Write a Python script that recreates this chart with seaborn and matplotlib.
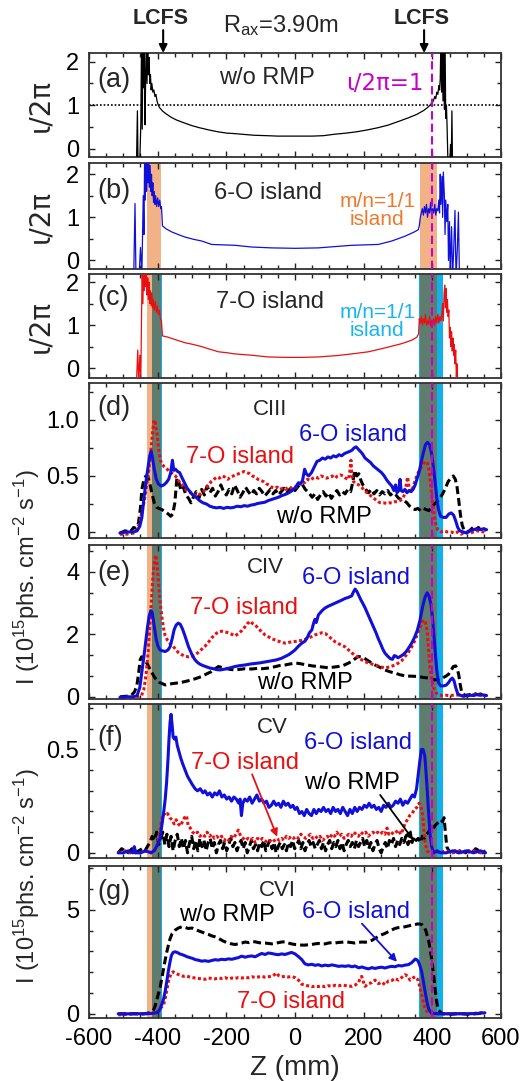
import matplotlib
matplotlib.use("Agg")
import matplotlib.pyplot as plt
import pandas as pd
import seaborn as sns
from matplotlib.ticker import MultipleLocator, FixedLocator, FixedFormatter

sns.set_style("ticks")
plt.rcParams["font.family"] = ["Liberation Sans", "DejaVu Sans"]
plt.rcParams["mathtext.default"] = "regular"
plt.rcParams["axes.unicode_minus"] = False

# ---------------------------------------------------------------- data
# rotational transform profiles iota/2pi vs Z (mm)
iota_wo_rmp = [
    (-462, -0.5), (-459, 0.87), (-457, -0.5), (-452, -0.3), (-449, 0.6), (-447, 2.5),
    (-445, 0.45), (-443, 2.5), (-441, 1.4), (-439, 2.5), (-437, 0.55), (-435, 1.6),
    (-433, 2.5), (-431, 1.5), (-429, 2.5), (-427, 1.7), (-425, 2.1), (-423, 1.5),
    (-421, 1.7), (-419, 1.35), (-417, 1.5), (-414, 1.3), (-411, 1.35), (-408, 1.2),
    (-405, 1.25), (-402, 1.1), (-399, 1.02), (-395, 0.95), (-385, 0.86), (-375, 0.8),
    (-360, 0.72), (-345, 0.66), (-325, 0.6), (-300, 0.53), (-277, 0.48), (-250, 0.43),
    (-225, 0.39), (-200, 0.36), (-180, 0.35), (-150, 0.33), (-120, 0.31), (-82, 0.30),
    (-50, 0.29), (0, 0.29), (50, 0.29), (83, 0.30), (112, 0.33), (150, 0.36), (180, 0.39),
    (209, 0.43), (240, 0.48), (270, 0.54), (306, 0.64), (330, 0.71), (355, 0.79),
    (375, 0.88), (385, 0.94), (393, 1.0), (398, 1.05), (403, 1.1), (407, 1.2), (410, 1.15),
    (413, 1.3), (416, 1.25), (419, 1.45), (421, 1.35), (423, 1.6), (425, 2.5), (427, 1.3),
    (429, 2.5), (431, 1.1), (433, 2.5), (435, 0.9), (437, 2.5), (439, 0.7), (441, 1.0),
    (443, 0.5), (446, -0.5), (450, -0.5), (453, 0.1), (455, -0.5), (457, 0.87), (459, -0.5),
]
iota_6o = [
    (-470, -0.5), (-466, 1.32), (-463, -0.5), (-455, -0.5), (-450, 0.3), (-446, -0.3),
    (-442, 1.5), (-440, 0.6), (-438, 2.4), (-436, 1.4), (-434, 2.5), (-432, 1.6),
    (-430, 2.5), (-428, 1.8), (-426, 2.5), (-424, 1.7), (-422, 2.2), (-420, 1.6),
    (-418, 2.0), (-416, 1.5), (-414, 1.8), (-412, 1.35), (-410, 1.6), (-408, 1.3),
    (-406, 1.5), (-403, 1.25), (-400, 1.45), (-397, 1.25), (-394, 1.4), (-391, 1.2),
    (-389, 1.25), (-386, 0.8), (-375, 0.73), (-359, 0.66), (-340, 0.6), (-320, 0.54),
    (-296, 0.49), (-272, 0.45), (-243, 0.37), (-210, 0.36), (-175, 0.35), (-126, 0.31),
    (-68, 0.29), (0, 0.28), (68, 0.29), (100, 0.31), (165, 0.35), (243, 0.37), (282, 0.45),
    (320, 0.56), (345, 0.65), (359, 0.71), (362, 0.8), (365, 1.0), (368, 1.1), (371, 1.2),
    (374, 1.05), (377, 1.25), (380, 1.1), (383, 1.3), (386, 1.0), (389, 1.2), (392, 1.1),
    (395, 1.35), (398, 1.05), (401, 1.2), (404, 1.1), (407, 1.3), (410, 1.05), (413, 1.2),
    (416, 1.15), (419, 1.4), (421, 1.1), (423, 2.0), (425, 1.3), (428, 1.95), (430, 1.0),
    (432, 2.05), (435, 1.5), (437, 0.6), (439, 1.4), (442, 0.9), (445, 1.3), (447, 0.0),
    (450, 0.9), (452, -0.4), (456, 0.78), (459, -0.4), (462, 0.2), (466, 1.16), (469, -0.4),
    (473, 0.3), (476, 1.12), (479, -0.4),
]
iota_7o = [
    (-462, -0.4), (-458, 0.42), (-455, -0.4), (-452, 0.3), (-449, -0.2), (-447, 1.2),
    (-445, 2.4), (-443, 1.5), (-441, 2.5), (-439, 1.8), (-437, 2.4), (-435, 1.9),
    (-433, 2.2), (-431, 1.7), (-429, 2.1), (-427, 1.6), (-425, 2.0), (-423, 1.5),
    (-421, 1.8), (-419, 1.45), (-417, 1.75), (-415, 1.4), (-413, 1.6), (-410, 1.35),
    (-407, 1.55), (-404, 1.3), (-401, 1.45), (-398, 1.25), (-395, 1.35), (-392, 1.15),
    (-389, 1.1), (-386, 0.75), (-370, 0.72), (-359, 0.69), (-340, 0.64), (-320, 0.59),
    (-296, 0.55), (-272, 0.5), (-248, 0.44), (-223, 0.38), (-200, 0.36), (-175, 0.33),
    (-126, 0.30), (-78, 0.26), (-30, 0.25), (20, 0.25), (68, 0.26), (120, 0.29), (165, 0.33),
    (214, 0.38), (262, 0.47), (311, 0.57), (340, 0.65), (355, 0.72), (360, 0.8), (362, 1.15),
    (365, 1.05), (368, 1.2), (371, 1.0), (374, 1.15), (377, 1.05), (380, 1.25), (383, 1.0),
    (386, 1.1), (389, 1.02), (392, 1.2), (395, 0.98), (398, 1.1), (401, 1.0), (404, 1.15),
    (407, 1.0), (410, 1.2), (413, 1.05), (416, 1.25), (419, 1.05), (422, 1.2), (425, 1.1),
    (428, 1.3), (430, 1.5), (432, 1.1), (434, 1.7), (436, 1.93), (438, 1.4), (440, 1.85),
    (442, 1.3), (444, 1.6), (446, 1.2), (448, 1.35), (450, 0.7), (452, 0.95), (454, 0.5),
    (456, 0.85), (458, 0.4), (460, 0.7), (462, 0.3), (464, 0.55), (466, 0.1), (468, 0.42),
    (470, -0.2), (472, 0.1), (474, -0.3),
]

# CIII intensity (1e15 phs cm^-2 s^-1)
ciii_wo = [
    (-510, -0.01), (-495, 0.01), (-480, 0.0), (-470, 0.04), (-462, 0.03), (-456, 0.08),
    (-450, 0.22), (-446, 0.38), (-440, 0.47), (-434, 0.50), (-428, 0.49), (-422, 0.42),
    (-417, 0.35), (-410, 0.26), (-403, 0.22), (-396, 0.21), (-388, 0.20), (-378, 0.18),
    (-369, 0.16), (-362, 0.14), (-356, 0.16), (-350, 0.26), (-344, 0.48), (-338, 0.44),
    (-332, 0.37), (-325, 0.40), (-318, 0.33), (-310, 0.30), (-303, 0.26), (-296, 0.31),
    (-288, 0.36), (-280, 0.30), (-272, 0.38), (-264, 0.33), (-256, 0.41), (-248, 0.35),
    (-240, 0.39), (-232, 0.32), (-224, 0.36), (-216, 0.42), (-208, 0.36), (-200, 0.33),
    (-192, 0.38), (-184, 0.34), (-176, 0.42), (-168, 0.37), (-160, 0.31), (-152, 0.35),
    (-144, 0.40), (-136, 0.36), (-128, 0.33), (-120, 0.37), (-112, 0.34), (-104, 0.39),
    (-96, 0.36), (-88, 0.32), (-80, 0.35), (-72, 0.38), (-64, 0.34), (-56, 0.37),
    (-48, 0.33), (-40, 0.36), (-32, 0.39), (-24, 0.35), (-16, 0.38), (-8, 0.40), (0, 0.37),
    (10, 0.41), (20, 0.43), (30, 0.38), (40, 0.35), (50, 0.31), (58, 0.34), (66, 0.29),
    (74, 0.33), (82, 0.36), (90, 0.32), (98, 0.35), (106, 0.30), (114, 0.34), (122, 0.37),
    (130, 0.33), (138, 0.36), (146, 0.34), (154, 0.38), (162, 0.36), (168, 0.44),
    (174, 0.55), (180, 0.50), (186, 0.52), (192, 0.46), (198, 0.42), (206, 0.38),
    (214, 0.35), (222, 0.38), (230, 0.34), (238, 0.37), (246, 0.33), (254, 0.36),
    (262, 0.34), (270, 0.37), (278, 0.33), (286, 0.35), (294, 0.33), (302, 0.30),
    (310, 0.29), (318, 0.28), (326, 0.26), (334, 0.23), (342, 0.21), (350, 0.20),
    (358, 0.21), (366, 0.19), (374, 0.21), (382, 0.20), (390, 0.19), (398, 0.22),
    (406, 0.25), (414, 0.27), (422, 0.30), (430, 0.34), (438, 0.39), (446, 0.45),
    (454, 0.48), (461, 0.50), (467, 0.47), (472, 0.40), (477, 0.28), (482, 0.15),
    (487, 0.06), (492, 0.02), (500, 0.0), (508, 0.01), (515, 0.03), (522, 0.05),
    (528, 0.02), (534, 0.04), (540, 0.02), (548, 0.01), (555, 0.02),
]
ciii_6o = [
    (-510, -0.01), (-490, 0.0), (-470, 0.0), (-460, 0.01), (-452, 0.05), (-446, 0.13),
    (-440, 0.30), (-434, 0.45), (-428, 0.58), (-423, 0.68), (-419, 0.72), (-415, 0.66),
    (-410, 0.56), (-404, 0.47), (-398, 0.43), (-390, 0.41), (-382, 0.42), (-375, 0.44),
    (-368, 0.47), (-362, 0.53), (-357, 0.64), (-353, 0.55), (-348, 0.56), (-342, 0.54),
    (-336, 0.53), (-330, 0.49), (-322, 0.44), (-314, 0.39), (-306, 0.36), (-298, 0.33),
    (-288, 0.31), (-278, 0.28), (-268, 0.26), (-258, 0.25), (-248, 0.23), (-238, 0.22),
    (-228, 0.215), (-218, 0.22), (-208, 0.21), (-198, 0.22), (-188, 0.215), (-178, 0.22),
    (-168, 0.23), (-158, 0.225), (-148, 0.235), (-138, 0.23), (-128, 0.24), (-118, 0.245),
    (-108, 0.255), (-98, 0.26), (-88, 0.265), (-78, 0.28), (-68, 0.29), (-58, 0.30),
    (-48, 0.31), (-38, 0.325), (-28, 0.335), (-18, 0.35), (-8, 0.37), (2, 0.40), (10, 0.44),
    (16, 0.43), (22, 0.46), (28, 0.56), (33, 0.52), (40, 0.50), (48, 0.53), (56, 0.58),
    (64, 0.63), (72, 0.64), (80, 0.66), (88, 0.65), (96, 0.67), (104, 0.66), (112, 0.68),
    (120, 0.67), (128, 0.69), (136, 0.68), (144, 0.70), (152, 0.71), (160, 0.72),
    (166, 0.73), (172, 0.75), (178, 0.76), (184, 0.74), (190, 0.72), (196, 0.70),
    (204, 0.66), (212, 0.64), (220, 0.62), (228, 0.59), (236, 0.57), (244, 0.55),
    (252, 0.53), (260, 0.50), (268, 0.46), (276, 0.43), (282, 0.41), (288, 0.37),
    (293, 0.42), (297, 0.35), (302, 0.37), (306, 0.47), (309, 0.37), (314, 0.36),
    (320, 0.38), (326, 0.35), (332, 0.37), (338, 0.36), (344, 0.38), (350, 0.42),
    (356, 0.48), (362, 0.54), (368, 0.63), (374, 0.71), (380, 0.78), (386, 0.80),
    (392, 0.78), (398, 0.70), (403, 0.58), (408, 0.45), (413, 0.30), (418, 0.20),
    (424, 0.14), (432, 0.13), (440, 0.13), (448, 0.16), (455, 0.17), (462, 0.15),
    (468, 0.10), (474, 0.04), (480, 0.01), (490, 0.0), (500, -0.01), (510, 0.01),
    (520, 0.02), (530, 0.03), (540, 0.02), (550, 0.03), (558, 0.02),
]
ciii_7o = [
    (-510, -0.02), (-490, -0.02), (-470, -0.01), (-460, 0.02), (-452, 0.08), (-446, 0.18),
    (-440, 0.26), (-433, 0.40), (-426, 0.55), (-420, 0.72), (-415, 0.88), (-411, 1.0),
    (-407, 0.98), (-402, 0.88), (-397, 0.74), (-392, 0.64), (-386, 0.60), (-380, 0.58),
    (-372, 0.56), (-364, 0.53), (-356, 0.52), (-348, 0.50), (-340, 0.46), (-332, 0.43),
    (-324, 0.40), (-316, 0.37), (-308, 0.36), (-300, 0.34), (-292, 0.33), (-284, 0.32),
    (-276, 0.34), (-268, 0.36), (-260, 0.38), (-252, 0.42), (-244, 0.45), (-236, 0.47),
    (-228, 0.49), (-220, 0.48), (-212, 0.50), (-204, 0.49), (-196, 0.47), (-188, 0.49),
    (-180, 0.50), (-172, 0.51), (-164, 0.52), (-156, 0.53), (-148, 0.54), (-140, 0.53),
    (-132, 0.52), (-124, 0.50), (-116, 0.49), (-108, 0.47), (-100, 0.46), (-92, 0.45),
    (-84, 0.43), (-76, 0.42), (-68, 0.40), (-60, 0.39), (-52, 0.40), (-44, 0.38),
    (-36, 0.39), (-28, 0.38), (-20, 0.40), (-12, 0.39), (-4, 0.41), (4, 0.40), (12, 0.42),
    (20, 0.45), (28, 0.44), (36, 0.47), (44, 0.46), (52, 0.48), (60, 0.49), (68, 0.48),
    (76, 0.50), (84, 0.49), (92, 0.48), (100, 0.49), (108, 0.50), (116, 0.48), (124, 0.50),
    (132, 0.51), (140, 0.50), (148, 0.48), (156, 0.47), (160, 0.55), (163, 0.64),
    (166, 0.50), (170, 0.45), (178, 0.43), (186, 0.42), (194, 0.40), (202, 0.37),
    (210, 0.35), (218, 0.33), (226, 0.31), (234, 0.29), (242, 0.27), (250, 0.26),
    (258, 0.26), (266, 0.255), (274, 0.26), (282, 0.26), (290, 0.27), (298, 0.27),
    (306, 0.28), (314, 0.30), (320, 0.34), (324, 0.42), (328, 0.49), (332, 0.40),
    (338, 0.36), (344, 0.40), (350, 0.46), (356, 0.51), (362, 0.55), (368, 0.58),
    (374, 0.61), (380, 0.63), (385, 0.62), (390, 0.56), (395, 0.42), (400, 0.28),
    (405, 0.16), (410, 0.07), (416, 0.02), (424, 0.0), (434, 0.01), (444, 0.0), (454, 0.0),
    (464, -0.01), (474, 0.0), (484, -0.02), (494, 0.0), (510, -0.01), (530, 0.01),
    (550, 0.0), (558, -0.01),
]

# CIV intensity
civ_wo = [
    (-510, 0.0), (-490, 0.02), (-476, 0.06), (-468, 0.15), (-461, 0.33), (-455, 0.80),
    (-451, 1.18), (-447, 1.28), (-442, 1.27), (-436, 1.15), (-430, 1.05), (-424, 0.92),
    (-417, 0.78), (-410, 0.64), (-403, 0.54), (-395, 0.46), (-386, 0.42), (-378, 0.38),
    (-368, 0.40), (-359, 0.42), (-345, 0.44), (-332, 0.46), (-320, 0.49), (-305, 0.53),
    (-290, 0.58), (-272, 0.65), (-258, 0.73), (-243, 0.81), (-232, 0.90), (-223, 0.97),
    (-214, 0.94), (-204, 0.92), (-190, 0.88), (-175, 0.86), (-160, 0.88), (-145, 0.90),
    (-126, 0.89), (-110, 0.91), (-95, 0.90), (-78, 0.92), (-60, 0.96), (-45, 1.0),
    (-29, 1.02), (-15, 1.05), (0, 1.08), (10, 1.07), (20, 1.05), (35, 1.02), (50, 0.99),
    (68, 0.97), (82, 0.95), (97, 0.93), (112, 0.95), (126, 0.97), (140, 1.0), (152, 1.06),
    (165, 1.13), (175, 1.22), (185, 1.29), (195, 1.27), (204, 1.22), (218, 1.12),
    (233, 1.02), (248, 0.94), (262, 0.86), (277, 0.80), (291, 0.76), (305, 0.71),
    (320, 0.67), (340, 0.66), (359, 0.65), (374, 0.62), (389, 0.60), (400, 0.56),
    (408, 0.54), (418, 0.56), (428, 0.60), (438, 0.65), (447, 0.72), (455, 0.85),
    (461, 0.97), (468, 0.99), (473, 0.88), (477, 0.70), (481, 0.40), (486, 0.12),
    (495, 0.05), (505, 0.06), (515, 0.09), (524, 0.1), (532, 0.07), (540, 0.09),
    (550, 0.06), (558, 0.05),
]
civ_6o = [
    (-510, -0.02), (-490, 0.0), (-470, 0.0), (-460, 0.04), (-452, 0.30), (-446, 0.80),
    (-440, 1.30), (-435, 1.75), (-430, 2.20), (-425, 2.57), (-420, 2.76), (-416, 2.70),
    (-412, 2.40), (-408, 2.10), (-404, 1.82), (-399, 1.62), (-393, 1.50), (-386, 1.47),
    (-378, 1.45), (-370, 1.50), (-364, 1.60), (-358, 1.85), (-352, 2.15), (-346, 2.30),
    (-340, 2.36), (-334, 2.32), (-328, 2.18), (-322, 2.0), (-316, 1.80), (-310, 1.60),
    (-304, 1.45), (-298, 1.30), (-291, 1.18), (-284, 1.10), (-276, 1.04), (-268, 1.00),
    (-258, 0.96), (-248, 0.92), (-238, 0.90), (-228, 0.87), (-218, 0.86), (-208, 0.88),
    (-198, 0.90), (-188, 0.93), (-175, 0.97), (-160, 1.00), (-145, 1.02), (-130, 1.05),
    (-115, 1.07), (-100, 1.09), (-85, 1.12), (-70, 1.15), (-55, 1.18), (-40, 1.23),
    (-29, 1.29), (-18, 1.35), (-8, 1.43), (0, 1.50), (10, 1.62), (20, 1.72), (29, 1.78),
    (36, 1.90), (42, 2.05), (49, 2.14), (54, 2.35), (58, 2.48), (62, 2.38), (68, 2.62),
    (78, 2.75), (87, 2.84), (97, 2.90), (107, 2.95), (117, 3.00), (127, 3.05), (137, 3.10),
    (146, 3.15), (155, 3.18), (165, 3.23), (170, 3.35), (175, 3.45), (180, 3.38),
    (186, 3.24), (192, 3.10), (198, 2.98), (204, 2.85), (212, 2.65), (220, 2.45),
    (228, 2.25), (236, 2.05), (243, 1.85), (250, 1.68), (256, 1.52), (262, 1.40),
    (270, 1.30), (278, 1.22), (284, 1.20), (289, 1.32), (294, 1.30), (300, 1.25),
    (308, 1.30), (316, 1.36), (324, 1.45), (332, 1.58), (340, 1.72), (348, 1.90),
    (356, 2.12), (364, 2.45), (372, 2.90), (379, 3.20), (385, 3.33), (391, 3.20),
    (397, 2.90), (403, 2.20), (408, 1.50), (413, 0.85), (418, 0.45), (424, 0.35),
    (432, 0.35), (440, 0.37), (447, 0.45), (453, 0.55), (458, 0.60), (463, 0.52),
    (468, 0.30), (474, 0.10), (481, 0.05), (490, 0.02), (500, 0.03), (510, 0.05),
    (520, 0.04), (530, 0.07), (540, 0.05), (550, 0.06), (558, 0.04),
]
civ_7o = [
    (-510, -0.02), (-480, -0.01), (-460, 0.0), (-447, 0.04), (-440, 0.25), (-434, 0.70),
    (-428, 1.40), (-423, 2.20), (-418, 3.10), (-413, 3.96), (-409, 4.40), (-405, 4.54),
    (-401, 4.20), (-397, 3.60), (-393, 3.05), (-388, 2.57), (-383, 2.20), (-378, 1.95),
    (-372, 1.82), (-365, 1.72), (-358, 1.66), (-350, 1.55), (-340, 1.42), (-330, 1.35),
    (-320, 1.30), (-310, 1.28), (-300, 1.30), (-291, 1.34), (-282, 1.42), (-272, 1.52),
    (-262, 1.62), (-252, 1.75), (-243, 1.88), (-233, 2.00), (-223, 2.08), (-213, 2.10),
    (-204, 2.08), (-194, 2.05), (-184, 2.00), (-175, 1.95), (-165, 2.02), (-155, 2.12),
    (-145, 2.25), (-138, 2.35), (-131, 2.42), (-124, 2.35), (-116, 2.30), (-106, 2.18),
    (-97, 2.08), (-87, 1.98), (-77, 1.92), (-68, 1.86), (-58, 1.82), (-48, 1.78),
    (-38, 1.74), (-29, 1.72), (-19, 1.74), (-10, 1.76), (0, 1.77), (10, 1.79), (20, 1.81),
    (29, 1.84), (39, 1.88), (49, 1.93), (58, 1.98), (68, 2.02), (78, 2.05), (88, 2.03),
    (97, 1.95), (107, 1.85), (117, 1.76), (127, 1.70), (136, 1.65), (146, 1.60),
    (156, 1.50), (166, 1.40), (175, 1.33), (185, 1.25), (195, 1.18), (204, 1.13),
    (214, 1.08), (224, 1.05), (233, 1.02), (243, 0.98), (253, 0.95), (262, 0.92),
    (272, 0.95), (282, 0.98), (291, 1.02), (301, 1.08), (311, 1.16), (320, 1.28),
    (330, 1.42), (340, 1.60), (350, 1.82), (359, 2.08), (367, 2.30), (374, 2.46),
    (380, 2.38), (385, 2.10), (389, 1.50), (393, 0.95), (398, 0.55), (403, 0.30),
    (410, 0.14), (418, 0.06), (430, 0.04), (440, 0.05), (450, 0.04), (460, 0.05),
    (470, 0.06), (480, 0.05), (495, 0.02), (510, 0.05), (525, 0.08), (540, 0.06),
    (558, 0.03),
]

# CV intensity
cv_wo = [
    (-515, 0.0), (-505, 0.02), (-495, 0.01), (-485, 0.0), (-475, 0.02), (-465, 0.0),
    (-455, 0.01), (-445, 0.02), (-437, 0.01), (-430, 0.03), (-423, 0.05), (-416, 0.08),
    (-409, 0.06), (-403, 0.10), (-397, 0.04), (-391, 0.07), (-385, 0.10), (-379, 0.04),
    (-373, 0.09), (-367, 0.03), (-361, 0.08), (-355, 0.01), (-349, 0.06), (-343, 0.09),
    (-337, 0.03), (-331, 0.07), (-325, 0.02), (-319, 0.06), (-313, 0.00), (-307, 0.05),
    (-301, 0.08), (-295, 0.02), (-289, 0.06), (-283, 0.01), (-277, 0.07), (-271, 0.03),
    (-265, 0.06), (-259, 0.01), (-253, 0.05), (-247, 0.07), (-241, 0.02), (-235, 0.05),
    (-229, 0.00), (-223, 0.04), (-217, 0.06), (-211, 0.02), (-205, 0.05), (-199, 0.01),
    (-193, 0.04), (-187, 0.07), (-181, 0.03), (-175, 0.05), (-169, 0.01), (-163, 0.04),
    (-157, 0.06), (-151, 0.02), (-145, 0.05), (-139, 0.00), (-133, 0.03), (-127, 0.06),
    (-121, 0.02), (-115, 0.04), (-109, 0.01), (-103, 0.05), (-97, 0.03), (-91, 0.06),
    (-85, 0.01), (-79, 0.04), (-73, 0.06), (-67, 0.02), (-61, 0.05), (-55, 0.00),
    (-49, 0.03), (-43, 0.05), (-37, 0.02), (-31, 0.04), (-25, 0.01), (-19, 0.05),
    (-13, 0.03), (-7, 0.06), (-1, 0.02), (5, 0.04), (11, 0.06), (17, 0.02), (23, 0.05),
    (29, 0.01), (35, 0.04), (41, 0.06), (47, 0.03), (53, 0.05), (59, 0.02), (65, 0.04),
    (71, 0.06), (77, 0.02), (83, 0.05), (89, 0.01), (95, 0.04), (101, 0.06), (107, 0.02),
    (113, 0.05), (119, 0.03), (125, 0.06), (131, 0.02), (137, 0.05), (143, 0.01),
    (149, 0.04), (155, 0.06), (161, 0.03), (167, 0.05), (173, 0.02), (179, 0.06),
    (185, 0.03), (191, 0.05), (197, 0.07), (203, 0.03), (209, 0.06), (215, 0.02),
    (221, 0.05), (227, 0.01), (233, 0.04), (239, 0.06), (245, 0.02), (251, 0.00),
    (257, 0.03), (263, 0.05), (269, 0.02), (275, 0.06), (281, 0.04), (287, 0.07),
    (293, 0.03), (299, 0.06), (305, 0.04), (311, 0.07), (317, 0.05), (323, 0.08),
    (329, 0.04), (335, 0.07), (341, 0.05), (347, 0.08), (353, 0.06), (359, 0.07),
    (365, 0.05), (371, 0.08), (377, 0.07), (383, 0.09), (389, 0.10), (395, 0.12),
    (401, 0.11), (407, 0.13), (413, 0.14), (419, 0.15), (425, 0.16), (430, 0.15),
    (434, 0.17), (438, 0.10), (442, 0.03), (448, 0.01), (456, 0.0), (466, 0.01),
    (476, 0.0), (486, 0.02), (496, 0.0), (506, 0.01), (516, 0.0), (526, 0.02),
    (536, 0.01), (546, 0.0), (555, 0.01),
]
cv_6o = [
    (-515, 0.0), (-500, 0.0), (-485, 0.01), (-472, 0.0), (-468, 0.03), (-464, 0.0),
    (-450, 0.0), (-435, 0.01), (-420, 0.0), (-410, 0.01), (-400, 0.04), (-393, 0.07),
    (-388, 0.13), (-383, 0.19), (-378, 0.26), (-374, 0.34), (-370, 0.45), (-367, 0.55),
    (-364, 0.63), (-361, 0.67), (-358, 0.62), (-355, 0.56), (-351, 0.55), (-347, 0.56),
    (-343, 0.52), (-338, 0.49), (-333, 0.46), (-327, 0.43), (-320, 0.40), (-313, 0.37),
    (-306, 0.35), (-299, 0.33), (-291, 0.31), (-284, 0.30), (-276, 0.31), (-268, 0.29),
    (-262, 0.30), (-255, 0.28), (-248, 0.29), (-241, 0.27), (-234, 0.29), (-227, 0.28),
    (-220, 0.30), (-213, 0.27), (-206, 0.28), (-199, 0.26), (-192, 0.27), (-185, 0.25),
    (-178, 0.27), (-171, 0.26), (-164, 0.24), (-160, 0.26), (-156, 0.18), (-152, 0.24),
    (-146, 0.26), (-139, 0.25), (-132, 0.27), (-125, 0.24), (-118, 0.26), (-111, 0.28),
    (-104, 0.25), (-97, 0.26), (-90, 0.24), (-83, 0.25), (-76, 0.22), (-69, 0.23),
    (-62, 0.25), (-55, 0.23), (-48, 0.24), (-41, 0.22), (-34, 0.25), (-27, 0.23),
    (-20, 0.24), (-13, 0.22), (-6, 0.23), (0, 0.21), (6, 0.22), (13, 0.19), (20, 0.20),
    (27, 0.18), (34, 0.21), (41, 0.19), (48, 0.18), (55, 0.21), (62, 0.19), (69, 0.21),
    (76, 0.20), (83, 0.22), (90, 0.20), (97, 0.21), (104, 0.19), (111, 0.22), (118, 0.20),
    (125, 0.21), (132, 0.19), (139, 0.22), (146, 0.20), (153, 0.18), (160, 0.21),
    (167, 0.19), (174, 0.22), (181, 0.20), (188, 0.22), (195, 0.21), (202, 0.23),
    (209, 0.22), (216, 0.24), (223, 0.22), (230, 0.23), (237, 0.21), (244, 0.22),
    (251, 0.20), (258, 0.23), (265, 0.22), (272, 0.24), (279, 0.22), (286, 0.23),
    (293, 0.25), (300, 0.24), (307, 0.26), (314, 0.23), (321, 0.25), (328, 0.24),
    (335, 0.26), (342, 0.28), (348, 0.27), (354, 0.31), (359, 0.38), (364, 0.45),
    (368, 0.50), (373, 0.50), (378, 0.47), (382, 0.38), (386, 0.28), (390, 0.17),
    (394, 0.08), (398, 0.03), (404, 0.0), (414, 0.01), (424, 0.0), (440, 0.0), (460, 0.01),
    (480, 0.0), (500, 0.01), (520, 0.0), (540, 0.01), (555, 0.0),
]
cv_7o = [
    (-515, 0.0), (-495, 0.01), (-480, 0.0), (-466, 0.01), (-450, 0.0), (-430, 0.01),
    (-417, 0.0), (-410, 0.01), (-403, 0.03), (-397, 0.07), (-392, 0.12), (-387, 0.17),
    (-382, 0.19), (-377, 0.18), (-371, 0.19), (-365, 0.17), (-358, 0.16), (-352, 0.14),
    (-346, 0.16), (-340, 0.14), (-334, 0.13), (-328, 0.15), (-322, 0.17), (-316, 0.18),
    (-311, 0.13), (-305, 0.12), (-298, 0.10), (-291, 0.09), (-284, 0.10), (-277, 0.08),
    (-270, 0.09), (-263, 0.08), (-256, 0.10), (-249, 0.08), (-242, 0.09), (-235, 0.07),
    (-228, 0.08), (-221, 0.07), (-214, 0.08), (-207, 0.06), (-200, 0.07), (-193, 0.06),
    (-186, 0.08), (-179, 0.07), (-172, 0.09), (-165, 0.11), (-158, 0.08), (-151, 0.07),
    (-144, 0.06), (-137, 0.07), (-130, 0.06), (-123, 0.07), (-116, 0.05), (-109, 0.07),
    (-102, 0.06), (-95, 0.07), (-88, 0.06), (-81, 0.05), (-74, 0.06), (-67, 0.05),
    (-60, 0.06), (-53, 0.07), (-46, 0.06), (-39, 0.07), (-32, 0.06), (-25, 0.08),
    (-18, 0.07), (-11, 0.08), (-4, 0.07), (3, 0.08), (10, 0.07), (17, 0.09), (24, 0.08),
    (31, 0.07), (38, 0.08), (45, 0.09), (52, 0.07), (59, 0.08), (66, 0.07), (73, 0.08),
    (80, 0.06), (87, 0.07), (94, 0.08), (101, 0.07), (108, 0.09), (115, 0.08), (122, 0.10),
    (129, 0.08), (136, 0.09), (143, 0.07), (150, 0.08), (157, 0.09), (164, 0.08),
    (171, 0.10), (178, 0.09), (185, 0.08), (192, 0.10), (199, 0.09), (206, 0.10),
    (213, 0.08), (220, 0.09), (227, 0.10), (234, 0.09), (241, 0.10), (248, 0.09),
    (255, 0.10), (262, 0.09), (268, 0.12), (273, 0.09), (280, 0.10), (287, 0.09),
    (294, 0.10), (301, 0.11), (308, 0.09), (314, 0.11), (320, 0.14), (327, 0.16),
    (334, 0.18), (341, 0.19), (348, 0.21), (355, 0.22), (361, 0.24), (366, 0.23),
    (371, 0.19), (375, 0.12), (379, 0.05), (384, 0.01), (392, 0.0), (405, 0.01),
    (420, 0.0), (440, 0.01), (460, 0.0), (480, 0.01), (500, 0.0), (520, 0.01), (540, 0.0),
    (555, 0.0),
]

# CVI intensity
cvi_wo = [
    (-515, 0.0), (-490, 0.0), (-466, 0.0), (-440, 0.0), (-425, 0.05), (-417, 0.1),
    (-412, 0.2), (-408, 0.35), (-403, 0.65), (-398, 0.95), (-393, 1.25), (-388, 1.7),
    (-383, 2.15), (-378, 2.6), (-373, 3.0), (-368, 3.35), (-364, 3.6), (-358, 3.85),
    (-349, 4.02), (-340, 4.12), (-330, 4.18), (-320, 4.15), (-311, 4.10), (-300, 4.12),
    (-291, 4.06), (-280, 3.98), (-270, 3.92), (-262, 3.86), (-250, 3.80), (-242, 3.74),
    (-233, 3.70), (-222, 3.62), (-212, 3.52), (-204, 3.46), (-194, 3.40), (-185, 3.36),
    (-175, 3.33), (-165, 3.36), (-155, 3.40), (-145, 3.45), (-135, 3.42), (-126, 3.46),
    (-116, 3.46), (-106, 3.42), (-97, 3.40), (-87, 3.40), (-77, 3.38), (-68, 3.36),
    (-58, 3.38), (-48, 3.42), (-39, 3.45), (-29, 3.46), (-19, 3.40), (-10, 3.36),
    (0, 3.33), (10, 3.32), (20, 3.30), (29, 3.30), (39, 3.32), (49, 3.33), (58, 3.36),
    (68, 3.38), (78, 3.35), (88, 3.36), (97, 3.40), (107, 3.42), (117, 3.40), (127, 3.43),
    (137, 3.44), (146, 3.46), (156, 3.44), (166, 3.42), (175, 3.40), (185, 3.43),
    (195, 3.45), (204, 3.44), (214, 3.46), (224, 3.53), (233, 3.62), (243, 3.72),
    (253, 3.80), (262, 3.86), (272, 3.95), (282, 4.03), (291, 4.10), (301, 4.14),
    (311, 4.16), (320, 4.18), (330, 4.22), (340, 4.26), (350, 4.29), (358, 4.32),
    (364, 4.31), (370, 4.28), (376, 4.18), (381, 4.0), (385, 3.75), (389, 3.55),
    (393, 3.15), (398, 2.65), (403, 1.95), (408, 1.20), (413, 0.55), (418, 0.18),
    (425, 0.06), (432, 0.0), (445, 0.02), (456, -0.02), (470, 0.0), (490, 0.0),
    (505, -0.02), (525, 0.0), (540, 0.02), (553, 0.0),
]
cvi_6o = [
    (-515, 0.0), (-490, 0.0), (-466, 0.01), (-440, 0.0), (-417, 0.02), (-405, 0.05),
    (-398, 0.10), (-393, 0.25), (-388, 0.45), (-383, 0.70), (-378, 1.10), (-373, 1.60),
    (-369, 2.05), (-364, 2.50), (-360, 2.80), (-355, 2.95), (-349, 2.98), (-342, 2.94),
    (-336, 2.88), (-330, 2.85), (-322, 2.80), (-314, 2.74), (-306, 2.70), (-298, 2.66),
    (-290, 2.60), (-282, 2.58), (-272, 2.53), (-262, 2.55), (-252, 2.52), (-243, 2.56),
    (-233, 2.60), (-223, 2.58), (-214, 2.62), (-204, 2.60), (-194, 2.64), (-184, 2.62),
    (-175, 2.66), (-165, 2.70), (-155, 2.77), (-145, 2.72), (-136, 2.76), (-126, 2.78),
    (-116, 2.74), (-107, 2.82), (-97, 2.90), (-87, 2.85), (-78, 2.92), (-68, 2.90),
    (-58, 2.86), (-48, 2.84), (-39, 2.88), (-29, 2.85), (-20, 2.90), (-10, 2.95),
    (0, 2.88), (10, 2.75), (20, 2.60), (29, 2.40), (39, 2.35), (49, 2.38), (58, 2.33),
    (68, 2.36), (78, 2.30), (88, 2.34), (97, 2.31), (107, 2.35), (117, 2.32), (127, 2.28),
    (137, 2.30), (146, 2.28), (156, 2.31), (166, 2.26), (175, 2.30), (185, 2.21),
    (195, 2.25), (204, 2.20), (214, 2.16), (224, 2.22), (233, 2.18), (243, 2.22),
    (253, 2.24), (262, 2.20), (272, 2.25), (282, 2.28), (291, 2.26), (301, 2.32),
    (311, 2.30), (320, 2.34), (330, 2.36), (340, 2.46), (346, 2.56), (350, 2.63),
    (355, 2.60), (359, 2.52), (364, 2.30), (369, 2.02), (374, 1.55), (379, 1.06),
    (384, 0.60), (389, 0.26), (394, 0.10), (398, 0.04), (408, 0.02), (418, 0.0),
    (440, 0.0), (456, 0.0), (480, 0.01), (505, 0.0), (530, 0.02), (553, 0.05),
]
cvi_7o = [
    (-515, -0.05), (-490, -0.03), (-466, 0.0), (-440, 0.0), (-417, 0.02), (-405, 0.05),
    (-398, 0.15), (-390, 0.30), (-383, 0.42), (-378, 0.75), (-373, 1.15), (-369, 1.54),
    (-364, 1.80), (-359, 1.98), (-355, 2.02), (-348, 1.95), (-340, 1.89), (-332, 1.85),
    (-325, 1.80), (-317, 1.82), (-309, 1.78), (-301, 1.75), (-291, 1.72), (-282, 1.70),
    (-272, 1.68), (-262, 1.66), (-252, 1.72), (-243, 1.70), (-233, 1.68), (-223, 1.72),
    (-214, 1.70), (-204, 1.74), (-194, 1.68), (-184, 1.72), (-175, 1.70), (-165, 1.74),
    (-155, 1.72), (-145, 1.75), (-136, 1.73), (-126, 1.78), (-116, 1.75), (-107, 1.77),
    (-97, 1.80), (-87, 1.76), (-78, 1.78), (-68, 1.80), (-58, 1.90), (-53, 1.96),
    (-48, 1.84), (-39, 1.78), (-29, 1.80), (-20, 1.77), (-10, 1.79), (0, 1.74), (10, 1.62),
    (20, 1.42), (29, 1.38), (39, 1.34), (49, 1.30), (58, 1.33), (68, 1.31), (78, 1.34),
    (88, 1.30), (97, 1.35), (107, 1.32), (117, 1.37), (127, 1.35), (137, 1.38),
    (146, 1.36), (156, 1.34), (166, 1.32), (175, 1.38), (185, 1.50), (190, 1.72),
    (194, 1.80), (199, 1.55), (204, 1.32), (214, 1.45), (224, 1.50), (233, 1.62),
    (243, 1.45), (253, 1.52), (262, 1.40), (272, 1.58), (282, 1.60), (291, 1.70),
    (301, 1.62), (311, 1.75), (320, 1.88), (328, 1.82), (335, 1.62), (343, 1.72),
    (350, 1.78), (355, 1.70), (359, 1.60), (364, 1.25), (369, 0.90), (374, 0.55),
    (379, 0.26), (384, 0.12), (389, 0.06), (398, 0.02), (418, 0.0), (440, 0.0),
    (456, 0.02), (480, 0.0), (505, 0.01), (530, 0.03), (553, 0.08),
]

# island regions (mm) and markers
orange_bands = [(-432, -390), (364, 415)]
cyan_bands = [(-417, -387), (362, 432)]
lcfs_z = [-384, 376]
iota_one_z = 400

panel_letters = ["(a)", "(b)", "(c)", "(d)", "(e)", "(f)", "(g)"]
line_names = ["CIII", "CIV", "CV", "CVI"]
ylims = [(-0.19, 2.2), (-0.2, 2.26), (-0.23, 2.19), (-0.054, 1.33),
         (-0.07, 4.86), (-0.025, 0.72), (-0.2, 7.1)]
ytick_vals = [[0, 1, 2], [0, 1, 2], [0, 1, 2], [0, 0.5, 1.0], [0, 2, 4], [0, 0.5], [0, 5]]
ytick_text = [["0", "1", "2"], ["0", "1", "2"], ["0", "1", "2"], ["0", "0.5", "1.0"],
              ["0", "2", "4"], ["0", "0.5"], ["0", "5"]]
yminor = [0.5, 0.5, 0.5, 0.25, 2 / 3, 0.1, 1.0]

# ---------------------------------------------------------------- style
BLUE = "#1010d8"
RED = "#e81010"
BLACK = "#000000"
MAGENTA = "#c800c8"
ORANGE_FILL = "#f2b288"
CYAN_FILL = "#10b0ec"
OVERLAP_FILL = "#5f7c6e"
ORANGE_TXT = "#ec7a2c"
CYAN_TXT = "#18b4f0"
GREEK = ["DejaVu Sans"]

W, H = 525, 1081
panel_px = [(53, 157), (163, 269), (274, 378), (383, 538), (545, 699), (704, 858), (866, 1018)]

fig = plt.figure(figsize=(W / 100, H / 100), dpi=100)
axes = []
for top, bot in panel_px:
    axes.append(fig.add_axes([89 / W, 1 - bot / H, 412 / W, (bot - top) / H]))


def trace(ax, pts, color, lw, ls="-"):
    df = pd.DataFrame(pts, columns=["z", "v"])
    sns.lineplot(data=df, x="z", y="v", ax=ax, color=color, lw=lw, linestyle=ls,
                 estimator=None, sort=False, legend=False, zorder=3)


def bands(ax, with_cyan=True):
    for lo, hi in orange_bands:
        ax.axvspan(lo, hi, color=ORANGE_FILL, lw=0, zorder=0)
    if not with_cyan:
        return
    for lo, hi in cyan_bands:
        ax.axvspan(lo, hi, color=CYAN_FILL, lw=0, zorder=0)
    for (olo, ohi), (clo, chi) in zip(orange_bands, cyan_bands):
        lo, hi = max(olo, clo), min(ohi, chi)
        ax.axvspan(lo, hi, color=OVERLAP_FILL, lw=0, zorder=0.5)


for i, ax in enumerate(axes):
    ax.set_xlim(-600, 600)
    ax.set_ylim(*ylims[i])
    ax.xaxis.set_major_locator(MultipleLocator(200))
    ax.xaxis.set_minor_locator(MultipleLocator(50))
    ax.yaxis.set_major_locator(FixedLocator(ytick_vals[i]))
    ax.yaxis.set_major_formatter(FixedFormatter(ytick_text[i]))
    ax.yaxis.set_minor_locator(MultipleLocator(yminor[i]))
    ax.tick_params(which="both", direction="in", top=True, right=True, width=1.0,
                   labelsize=17, pad=7, colors="#222222", labelcolor="black")
    ax.tick_params(which="major", length=4.5)
    ax.tick_params(which="minor", length=3)
    for s in ax.spines.values():
        s.set_linewidth(1.3)
        s.set_color("#333333")
    if i < 6:
        ax.tick_params(labelbottom=False)
    if i == 1:
        bands(ax, with_cyan=False)
    elif i >= 2:
        bands(ax)
    ax.axvline(iota_one_z, color=MAGENTA, lw=1.5, ls=(0, (4, 2)), zorder=5)
    ax.text(0.02, [0.74, 0.74, 0.77, 0.84, 0.82, 0.78, 0.83][i], panel_letters[i],
            transform=ax.transAxes, ha="left", va="center", fontsize=19.5)

# (a)-(c) rotational transform
ax = axes[0]
ax.axhline(1.0, color="black", lw=1.2, ls=(0, (1, 1.2)), zorder=2)
trace(ax, iota_wo_rmp, BLACK, 0.9)
ax.text(0.432, 0.76, "w/o RMP", transform=ax.transAxes, ha="center", va="center", fontsize=17)
ax.text(0.812, 0.71, "\u03b9/2\u03c0=1", transform=ax.transAxes, ha="right", va="center",
        fontsize=16.5, color=MAGENTA, family=GREEK)

ax = axes[1]
trace(ax, iota_6o, BLUE, 0.9)
ax.text(0.435, 0.72, "6-O island", transform=ax.transAxes, ha="center", va="center", fontsize=17)
ax.text(0.70, 0.555, "m/n=1/1\nisland", transform=ax.transAxes, ha="center", va="center",
        fontsize=15, color=ORANGE_TXT, linespacing=0.95)

ax = axes[2]
trace(ax, iota_7o, RED, 0.9)
ax.text(0.44, 0.73, "7-O island", transform=ax.transAxes, ha="center", va="center", fontsize=17)
ax.text(0.70, 0.545, "m/n=1/1\nisland", transform=ax.transAxes, ha="center", va="center",
        fontsize=15, color=CYAN_TXT, linespacing=0.95)

# (d)-(g) carbon line intensities
dash_bk = (0, (2.6, 1.3))
dot_rd = (0, (1.0, 0.8))
series = [(ciii_wo, ciii_6o, ciii_7o), (civ_wo, civ_6o, civ_7o),
          (cv_wo, cv_6o, cv_7o), (cvi_wo, cvi_6o, cvi_7o)]
for k, (wo, o6, o7) in enumerate(series):
    ax = axes[3 + k]
    trace(ax, wo, BLACK, 2.2, dash_bk)
    trace(ax, o7, RED, 2.2, dot_rd)
    trace(ax, o6, BLUE, 2.2)

label_pos = {
    3: dict(name=(0.44, 0.826), o6=(0.64, 0.665), o7=(0.367, 0.52), wo=(0.57, 0.135)),
    4: dict(name=(0.427, 0.857), o6=(0.648, 0.786), o7=(0.376, 0.59), wo=(0.524, 0.104)),
    5: dict(name=(0.444, 0.85), o6=(0.653, 0.745), o7=(0.379, 0.617), wo=(0.638, 0.487)),
    6: dict(name=(0.457, 0.84), o6=(0.648, 0.70), o7=(0.49, 0.105), wo=(0.335, 0.68)),
}
for idx, pos in label_pos.items():
    ax = axes[idx]
    ax.text(*pos["name"], line_names[idx - 3], transform=ax.transAxes, ha="center",
            va="center", fontsize=16)
    ax.text(*pos["o6"], "6-O island", transform=ax.transAxes, ha="center", va="center",
            fontsize=17, color=BLUE)
    ax.text(*pos["o7"], "7-O island", transform=ax.transAxes, ha="center", va="center",
            fontsize=17, color=RED)
    ax.text(*pos["wo"], "w/o RMP", transform=ax.transAxes, ha="center", va="center",
            fontsize=17, color="black")

arrow_kw = dict(arrowstyle="-|>", lw=1.3, mutation_scale=11, shrinkA=0, shrinkB=0)
axes[5].annotate("", xy=(-52, 0.078), xytext=(-125, 0.38),
                 arrowprops=dict(color=RED, **arrow_kw), zorder=6)
axes[5].annotate("", xy=(344, 0.063), xytext=(248, 0.28),
                 arrowprops=dict(color=BLACK, **arrow_kw), zorder=6)
axes[6].annotate("", xy=(297, 2.5), xytext=(195, 4.33),
                 arrowprops=dict(color=BLUE, **arrow_kw), zorder=6)

for ax in axes:
    ax.set_xlabel("")
    ax.set_ylabel("")

# LCFS markers and axis position above panel (a)
for z in lcfs_z:
    axes[0].annotate("", xy=(z, 1.0), xytext=(z, 1.22),
                     xycoords=("data", "axes fraction"), textcoords=("data", "axes fraction"),
                     arrowprops=dict(arrowstyle="-|>", color="black", lw=1.5,
                                     mutation_scale=12, shrinkA=0, shrinkB=0))
    axes[0].text(z - 8, 1.33, "LCFS", transform=axes[0].get_xaxis_transform(),
                 ha="center", va="center", fontsize=15.5, fontweight="bold")
axes[0].text(0.464, 1.26, "R$_{ax}$=3.90m", transform=axes[0].transAxes,
             ha="center", va="center", fontsize=17)

# axis labels
for i in range(3):
    top, bot = panel_px[i]
    fig.text(40 / W, 1 - (top + bot) / 2 / H, "\u03b9/2\u03c0", rotation=90,
             ha="center", va="center", fontsize=20, family=GREEK)
ylab = "I (10$^{15}$phs. cm$^{-2}$ s$^{-1}$)"
fig.text(27 / W, 1 - 577 / H, ylab, rotation=90, ha="center", va="center", fontsize=17)
fig.text(27 / W, 1 - 876 / H, ylab, rotation=90, ha="center", va="center", fontsize=17)
axes[6].set_xlabel("Z (mm)", fontsize=20, labelpad=4)

fig.savefig("out.png", dpi=100)
